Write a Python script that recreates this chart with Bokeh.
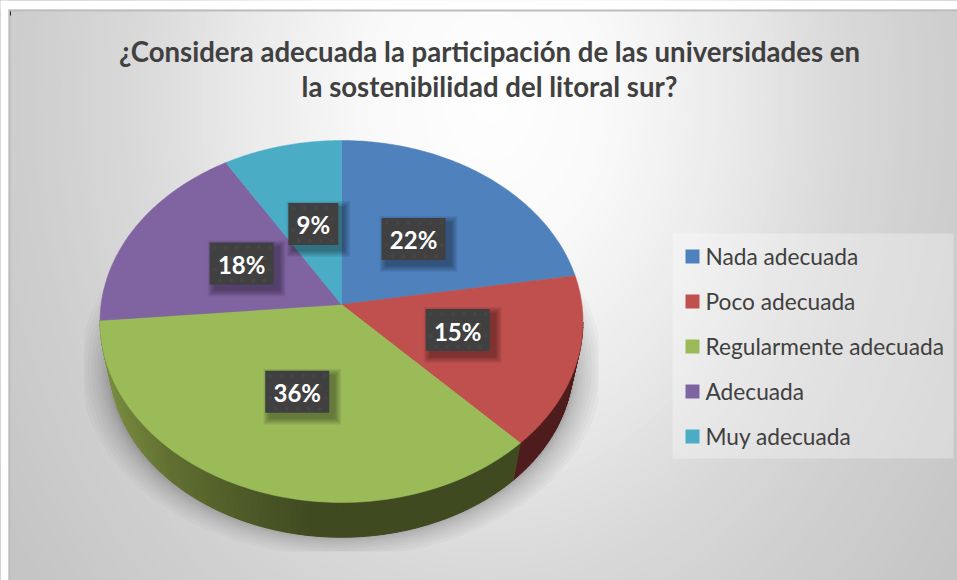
import numpy as np
from bokeh.plotting import figure
from bokeh.models import Range1d
from bokeh.core.properties import value
from bokeh.embed import file_html
from bokeh.resources import INLINE

categories = ["Nada adecuada", "Poco adecuada", "Regularmente adecuada", "Adecuada", "Muy adecuada"]
shares = [22.4, 15.4, 35.8, 17.7, 8.7]
share_labels = ["22%", "15%", "36%", "18%", "9%"]
title_lines = ["¿Considera adecuada la participación de las universidades en",
               "la sostenibilidad del litoral sur?"]
colors = ["#4F81BD", "#C0504D", "#9BBB59", "#8064A2", "#4BACC6"]
side_colors = [(60, 90, 130), (78, 28, 28), (64, 74, 33), (70, 50, 90), (40, 90, 105)]

W, H = 949, 572
FX, FY = 1, 1
AX, AY = 342.0, 305.0           # apex of the pie on screen
RIM_C, RIM_A, RIM_K = 0.0939, 179.4, 240.4   # perspective of the tilted disc
BOT_S, BOT_DY, TOP_CY = 0.96, 364.0, 322.0   # lower rim of the disc


def rim(t):
    a = np.radians(t)
    u, v = np.sin(a), np.cos(a)
    w = 1 + RIM_C * v
    return AX + RIM_K * u / w, AY - RIM_A * v / w


def lower(x, y):
    return AX + BOT_S * (x - AX), BOT_DY + BOT_S * (y - TOP_CY)


p = figure(width=W + 8, height=H + 8, x_range=Range1d(FX, FX + W + 8), y_range=Range1d(FY + H + 8, FY),
           toolbar_location=None, output_backend="svg", min_border=0,
           background_fill_color="#bebebe", outline_line_color=None)
p.axis.visible = False
p.grid.visible = False

theta = np.linspace(0, 2 * np.pi, 240)

# radial background: one filled disc per grey level, largest first
R_STOPS = [0, 120, 244, 360, 470, 580, 900]
G_STOPS = [255, 250, 235, 217, 206, 198, 190]
rs = np.linspace(900, 4, 130)
for r in rs:
    g = int(np.interp(r, R_STOPS, G_STOPS))
    hexc = "#%02x%02x%02x" % (g, g, g)
    p.patch(490 + r * np.cos(theta), 100 + r / 0.75 * np.sin(theta), fill_color=hexc, line_color=None)

# shadow under the disc, clipped to its rectangle
for s in 0.98 + 0.12 * np.linspace(1, 0, 12) ** 1.6:
    sx = np.clip(AX + 238 * s * np.cos(theta), 85, 599)
    sy = np.clip(368 + 172 * s * np.sin(theta), 200, 552)
    p.patch(sx, sy, fill_color="black", fill_alpha=0.025, line_color=None)

# white page margin, grey chart border
p.quad(left=[FX, FX], right=[9, FX + W + 8], top=[FY, FY], bottom=[FY + H + 8, 10], fill_color="white", line_color=None)
p.quad(left=[9, 9], right=[11, FX + W + 8], top=[10, 10], bottom=[FY + H + 8, 12], fill_color="#bdbdbd", line_color=None)
p.segment([11], [12], [11], [16], line_color="#222222", line_width=1)

edges = np.concatenate([[0], np.cumsum(shares)]) * 3.6

# side wall, drawn in strips so the light can run along it
for i, (a, b) in enumerate(zip(edges[:-1], edges[1:])):
    ts = np.arange(a, b, 1.5)
    for t0 in ts:
        t1 = min(t0 + 1.5, b)
        tm = (t0 + t1) / 2
        if np.cos(np.radians(tm)) > -RIM_C:
            continue
        x0, y0 = rim(t0)
        x1, y1 = rim(t1)
        x2, y2 = lower(x1, y1)
        x3, y3 = lower(x0, y0)
        xm = (x0 + x1) / 2
        f = np.interp(xm, [105, 170, 250, 310], [1.9, 1.5, 1.2, 1.0])
        c = tuple(int(min(255, ch * f)) for ch in side_colors[i])
        hexc = "#%02x%02x%02x" % c
        p.patch([x0, x1, x2, x3], [y0, y1, y2, y3], fill_color=hexc, line_color=hexc, line_width=1)

# top face
for i, (a, b) in enumerate(zip(edges[:-1], edges[1:])):
    ts = np.linspace(a, b, 80)
    xs, ys = rim(ts)
    p.patch(np.r_[AX, xs], np.r_[AY, ys], fill_color=colors[i], line_color=colors[i], line_width=0.5)

# value labels
BOX_H = 42
mids = (edges[:-1] + edges[1:]) / 2
for i, lab in enumerate(share_labels):
    mx, my = rim(mids[i])
    cx = AX + 1 + (mx - AX) * 0.49
    cy = AY - 3 + (my - AY) * 0.49
    hw = 25 if len(lab) == 2 else 32
    hh = BOX_H / 2
    for k in range(7):
        g = 7 - k
        p.quad(left=cx - hw + 5 - g, right=cx + hw + 5 + g, top=cy - hh + 5 - g, bottom=cy + hh + 5 + g,
               fill_color="black", fill_alpha=0.055, line_color=None)
    p.quad(left=cx - hw, right=cx + hw, top=cy - hh, bottom=cy + hh, fill_color="#404040", line_color=None)
    gx, gy = np.meshgrid(np.arange(cx - hw + 5, cx + hw, 11), np.arange(cy - hh + 5, cy + hh, 11))
    gx = gx + 5.5 * (np.arange(gx.shape[0])[:, None] % 2)
    keep = gx.ravel() < cx + hw - 1
    p.scatter(gx.ravel()[keep], gy.ravel()[keep], size=4, color="#464646", line_color=None)
    p.text([cx], [cy + 1], text=[lab], text_font=value("Lato"), text_font_style="bold",
           text_font_size="24px", text_color="white", text_align="center", text_baseline="middle")

# title
for line, y in zip(title_lines, [52, 87]):
    p.text([490], [y], text=[line], text_font=value("Lato"), text_font_style="bold",
           text_font_size="27.6px", text_color="#404040", text_align="center", text_baseline="alphabetic")

# legend
p.quad(left=673, right=954, top=234, bottom=459, fill_color="white", fill_alpha=0.3, line_color=None)
for i, name in enumerate(categories):
    yc = 257 + 45 * i
    p.quad(left=686, right=700, top=yc - 7, bottom=yc + 7, fill_color=colors[i], line_color=None)
    p.text([706], [yc], text=[name], text_font=value("Lato"), text_font_size="22.7px", text_color="#404040",
           text_align="left", text_baseline="middle")

open("out.html", "w").write(file_html(p, INLINE))
